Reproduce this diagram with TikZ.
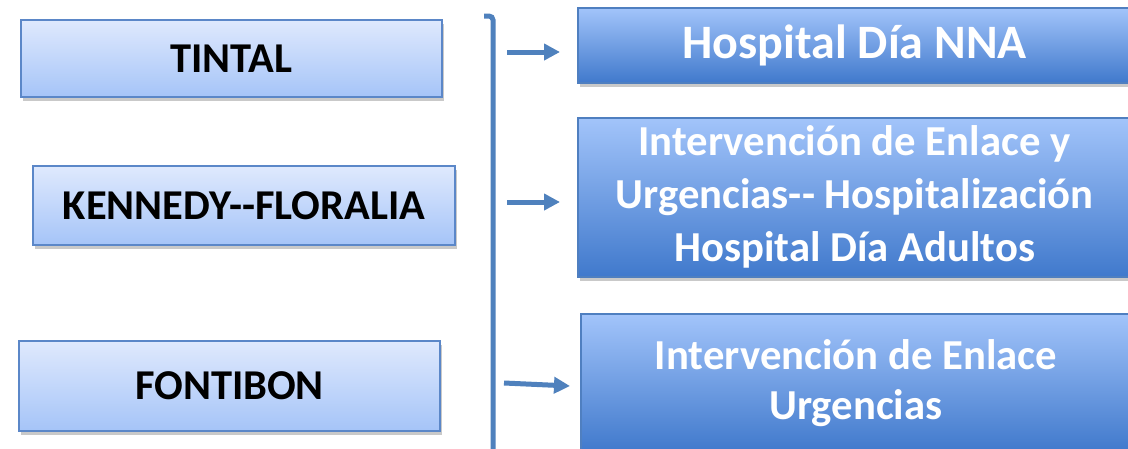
\documentclass[tikz,border=0pt]{standalone}
\usepackage{fontspec}
\setmainfont{Carlito}
\usetikzlibrary{shadows,arrows.meta}
\definecolor{lbtop}{HTML}{DFE9FD}
\definecolor{lbbot}{HTML}{A5C4F8}
\definecolor{lbdraw}{HTML}{5B87C8}
\definecolor{rbtop}{HTML}{A2C4FA}
\definecolor{rbbot}{HTML}{4079CC}
\definecolor{rbdraw}{HTML}{4F7FC0}
\definecolor{arr}{HTML}{4F81BD}
\tikzset{
  leftbox/.style={rectangle, draw=lbdraw, line width=1.2pt, top color=lbtop, bottom color=lbbot,
    font=\fontsize{42.5}{48}\selectfont\bfseries, text=black, align=center, inner sep=0pt,
    drop shadow={shadow xshift=2pt, shadow yshift=-4pt, opacity=0.35, fill=black!60}},
  rightbox/.style={rectangle, draw=rbdraw, line width=1.2pt, top color=rbtop, bottom color=rbbot,
    font=\fontsize{42.7}{53}\selectfont\bfseries, text=white, align=center, inner sep=0pt,
    drop shadow={shadow xshift=2pt, shadow yshift=-4pt, opacity=0.35, fill=black!60}},
  conn/.style={draw=arr, line width=5pt, -{Triangle[length=16pt,width=16pt]}},
  brack/.style={draw=arr, line width=5pt, rounded corners=4pt}
}
\begin{document}
\begin{tikzpicture}[x=1pt,y=-1pt]
\clip (0,0) rectangle (1128,448);
\fill[white] (0,0) rectangle (1128,448);
% left boxes
\node[leftbox, minimum width=421pt, minimum height=77pt] (tintal) at (231.5,58.5) {TINTAL};
\node[leftbox, minimum width=422pt, minimum height=79pt] (kennedy) at (244,205.5) {KENNEDY-{}-FLORALIA};
\node[leftbox, minimum width=421pt, minimum height=90pt] (fontibon) at (229.5,386) {FONTIBON};
% right boxes
\node[rightbox, font=\fontsize{48}{52}\selectfont\bfseries, minimum width=553pt, minimum height=75pt] (nna) at (854.5,45.5) {Hospital Día NNA};
\node[rightbox, minimum width=553pt, minimum height=159pt] (adultos) at (854.5,197.5) {\raisebox{-3pt}{\begin{tabular}{@{}c@{}}Intervención de Enlace y\\Urgencias-{}- Hospitalización\\Hospital Día Adultos\end{tabular}}};
\node[rightbox, font=\fontsize{42.7}{50}\selectfont\bfseries, minimum width=550pt, minimum height=138pt] (urg) at (856,383) {Intervención de Enlace\\Urgencias};
% bracket
\coordinate (btop) at (484,16);
\coordinate (bcorner) at (493,16);
\coordinate (bbot) at (493,452);
\draw[brack] (btop) -- (bcorner) -- (bbot);
% arrows
\coordinate (a1s) at (507,52);
\coordinate (a1e) at (560,52);
\coordinate (a2s) at (507,202);
\coordinate (a2e) at (560,202);
\coordinate (a3s) at (504,383);
\coordinate (a3e) at (570,386);
\draw[conn] (a1s) -- (a1e);
\draw[conn] (a2s) -- (a2e);
\draw[conn] (a3s) -- (a3e);
\end{tikzpicture}
\end{document}
